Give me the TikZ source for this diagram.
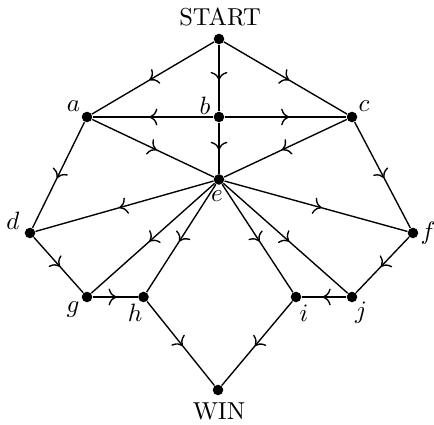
\documentclass[tikz,border=0pt]{standalone}
\usetikzlibrary{decorations.markings,arrows.meta}
\begin{document}
\begin{tikzpicture}[x=0.4366pt,y=-0.4366pt,
  vtx/.style={circle,fill=black,inner sep=0pt,minimum size=4.6pt},
  lbl/.style={inner sep=0pt,font=\fontsize{10.7pt}{13pt}\selectfont},
  edge/.style={line width=0.6pt,postaction={decorate},
    decoration={markings,mark=at position 0.53 with {\arrow{To[scale=1.2]}}}}]
\useasboundingbox (0,0) rectangle (434,425);
\node[vtx] (S) at (219,39) {};
\node[vtx] (a) at (87,117) {};
\node[vtx] (b) at (219,117) {};
\node[vtx] (c) at (352,117) {};
\node[vtx] (e) at (219,179.5) {};
\node[vtx] (d) at (30,233) {};
\node[vtx] (f) at (413,233) {};
\node[vtx] (g) at (87,297) {};
\node[vtx] (h) at (143.5,297) {};
\node[vtx] (i) at (296,297) {};
\node[vtx] (j) at (352,297) {};
\node[vtx] (W) at (218,390) {};
\node[lbl] (lS) at (220,17) {START};
\node[lbl] (lW) at (219,411) {WIN};
\node[lbl] (la) at (73.5,106) {$a$};
\node[lbl] (lb) at (205,106) {$b$};
\node[lbl] (lc) at (364,106) {$c$};
\node[lbl] (le) at (217,196) {$e$};
\node[lbl] (ld) at (13,221) {$d$};
\node[lbl] (lf) at (428,233) {$f$};
\node[lbl] (lg) at (73,310) {$g$};
\node[lbl] (lh) at (135,313) {$h$};
\node[lbl] (li) at (304,313) {$i$};
\node[lbl] (lj) at (361,313) {$j$};
\draw[edge] (S) -- (a);
\draw[edge] (S) -- (b);
\draw[edge] (S) -- (c);
\draw[edge] (b) -- (a);
\draw[edge] (b) -- (c);
\draw[edge] (b) -- (e);
\draw[edge] (a) -- (e);
\draw[edge] (c) -- (e);
\draw[edge] (a) -- (d);
\draw[edge] (c) -- (f);
\draw[edge] (e) -- (d);
\draw[edge] (e) -- (f);
\draw[edge] (e) -- (g);
\draw[edge] (e) -- (h);
\draw[edge] (e) -- (i);
\draw[edge] (e) -- (j);
\draw[edge] (d) -- (g);
\draw[edge] (g) -- (h);
\draw[edge] (j) -- (i);
\draw[edge] (f) -- (j);
\draw[edge] (h) -- (W);
\draw[edge] (i) -- (W);
\end{tikzpicture}
\end{document}
